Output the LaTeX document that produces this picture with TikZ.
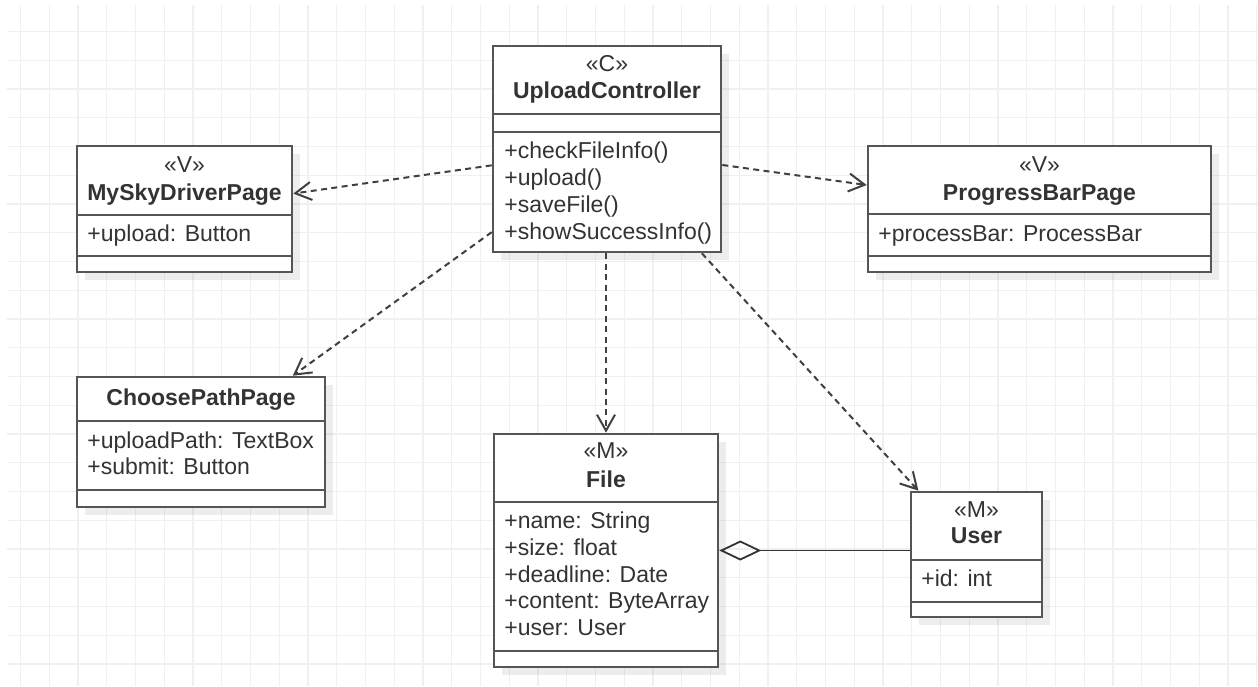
\documentclass[tikz,border=0pt]{standalone}
\usepackage{fontspec}
\setmainfont{Liberation Sans}
\usetikzlibrary{arrows.meta,fit,shadows}
\definecolor{txt}{HTML}{333333}
\definecolor{bord}{HTML}{555555}
\definecolor{gridc}{HTML}{F0F0F0}
\begin{document}
\begin{tikzpicture}[x=0.5pt,y=-0.5pt,
  classbox/.style={draw=bord, line width=1.3pt, fill=white, inner sep=0pt,
    drop shadow={shadow xshift=4pt, shadow yshift=-4pt, fill=black, opacity=0.07}},
  sep/.style={draw=bord, line width=1.3pt},
  stereo/.style={anchor=base, inner sep=0pt, text=txt, font=\fontsize{11.5}{13}\selectfont},
  cname/.style={anchor=base, inner sep=0pt, text=txt, font=\fontsize{11.5}{13}\selectfont\bfseries},
  member/.style={anchor=base west, inner sep=0pt, text=txt, font=\fontsize{11.5}{13}\selectfont},
  dep/.style={draw=black!75, line width=1pt, dash pattern=on 3pt off 2.2pt,
    -{Straight Barb[length=8pt,width=9pt]}},
  agg/.style={draw=black!80, line width=0.9pt, {Diamond[open,length=21pt,width=10pt]}-}
]
\useasboundingbox (0,0) rectangle (1258,686);
\fill[white] (0,0) rectangle (1258,686);
\foreach \x in {20.5,49.25,...,1258} \draw[gridc, line width=0.7pt] (\x,5) -- (\x,686);
\foreach \y in {31.5,60.25,...,686} \draw[gridc, line width=0.7pt] (7,\y) -- (1258,\y);

% UploadController
\node[classbox, fit={(493,46) (721,252)}] (uc) {};
\draw[sep] (493,114) -- (721,114);
\draw[sep] (493,132) -- (721,132);
\node[stereo] (uc-st) at (607,71) {«C»};
\node[cname] (uc-nm) at (607,98) {UploadController};
\node[member] (uc-m1) at (504,158) {+checkFileInfo()};
\node[member] (uc-m2) at (504,185) {+upload()};
\node[member] (uc-m3) at (504,212) {+saveFile()};
\node[member] (uc-m4) at (504,239) {+showSuccessInfo()};

% MySkyDriverPage
\node[classbox, fit={(77,146) (292,272)}] (msp) {};
\draw[sep] (77,215) -- (292,215);
\draw[sep] (77,256) -- (292,256);
\node[stereo] (msp-st) at (184.5,172) {«V»};
\node[cname] (msp-nm) at (184.5,200) {MySkyDriverPage};
\node[member] (msp-a1) at (87,241) {+upload: Button};

% ProgressBarPage
\node[classbox, fit={(868,146) (1211,272)}] (pbp) {};
\draw[sep] (868,214) -- (1211,214);
\draw[sep] (868,256) -- (1211,256);
\node[stereo] (pbp-st) at (1039.5,172) {«V»};
\node[cname] (pbp-nm) at (1039.5,200) {ProgressBarPage};
\node[member] (pbp-a1) at (878,241) {+processBar: ProcessBar};

% ChoosePathPage
\node[classbox, fit={(77,377) (325,507)}] (cpp) {};
\draw[sep] (77,421) -- (325,421);
\draw[sep] (77,490) -- (325,490);
\node[cname] (cpp-nm) at (201,405) {ChoosePathPage};
\node[member] (cpp-a1) at (87,448) {+uploadPath: TextBox};
\node[member] (cpp-a2) at (87,474) {+submit: Button};

% File
\node[classbox, fit={(494,434) (718,667)}] (file) {};
\draw[sep] (494,502) -- (718,502);
\draw[sep] (494,651) -- (718,651);
\node[stereo] (file-st) at (606,458) {«M»};
\node[cname] (file-nm) at (606,487) {File};
\node[member] (file-a1) at (504,528) {+name: String};
\node[member] (file-a2) at (504,555) {+size: float};
\node[member] (file-a3) at (504,582) {+deadline: Date};
\node[member] (file-a4) at (504,608) {+content: ByteArray};
\node[member] (file-a5) at (504,635) {+user: User};

% User
\node[classbox, fit={(911,492) (1042,617)}] (user) {};
\draw[sep] (911,560) -- (1042,560);
\draw[sep] (911,602) -- (1042,602);
\node[stereo] (user-st) at (976.5,517) {«M»};
\node[cname] (user-nm) at (976.5,543) {User};
\node[member] (user-a1) at (921,586) {+id: int};

% connectors
\draw[dep] (uc) -- (msp);
\draw[dep] (uc) -- (pbp);
\draw[dep] (uc) -- (cpp);
\draw[dep] (uc.south -| file.north) -- (file.north);
\draw[dep] (uc) -- (user);
\draw[agg] (file.east) -- (file.east -| user.west);
\end{tikzpicture}
\end{document}
